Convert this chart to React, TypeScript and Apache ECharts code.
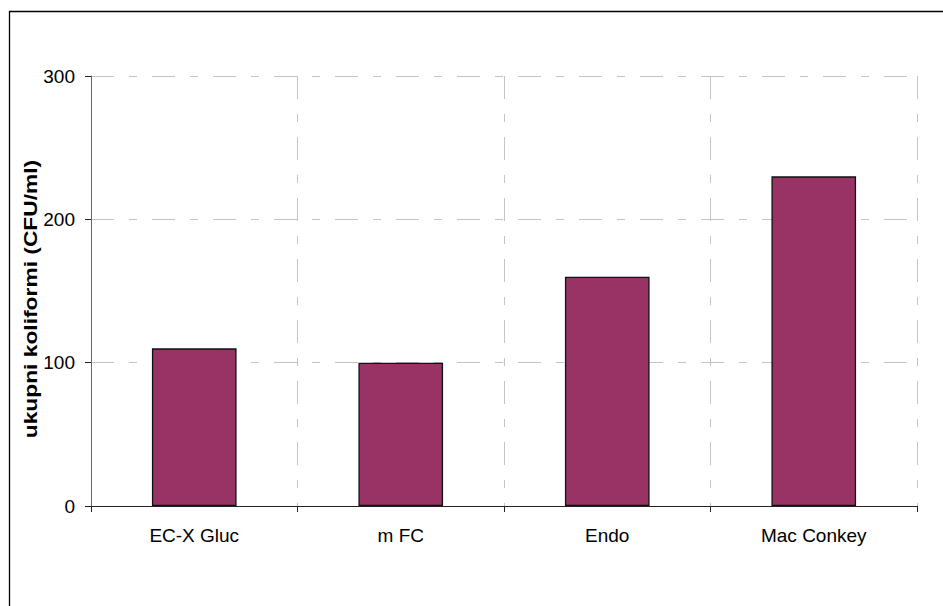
import React, { useEffect, useRef } from "react";
import * as echarts from "echarts";

const categories = ["EC-X Gluc", "m FC", "Endo", "Mac Conkey"];
const values = [110, 100, 160, 230];
const yTicks = { min: 0, max: 300, interval: 100 };
const yTitle = "ukupni koliformi (CFU/ml)";

const FONT = "Arial, 'Liberation Sans', sans-serif";

export default function App() {
  const ref = useRef<HTMLDivElement>(null);
  useEffect(() => {
    document.body.style.margin = "0";
    const chart = echarts.init(ref.current!, undefined, { renderer: "svg" });
    const dash = [23, 15, 8, 15];
    chart.setOption({
      animation: false,
      backgroundColor: "#ffffff",
      grid: { left: 91, top: 76, right: 26, bottom: 100, containLabel: false },
      graphic: [
        {
          type: "rect",
          shape: { x: 9.5, y: 11.5, width: 1200, height: 1200 },
          style: { fill: "none", stroke: "#000", lineWidth: 1.3 },
          silent: true,
        },
        {
          type: "text",
          x: 30,
          y: 299,
          rotation: Math.PI / 2,
          scaleX: 1.2,
          silent: true,
          style: {
            text: yTitle,
            fill: "#000",
            fontSize: 19,
            fontWeight: "bold",
            fontFamily: FONT,
            textAlign: "center",
            textVerticalAlign: "middle",
          },
        },
      ],
      xAxis: {
        type: "category",
        data: categories,
        boundaryGap: true,
        axisLine: { show: true, lineStyle: { color: "#222", width: 1 } },
        axisTick: { show: true, length: 6, lineStyle: { color: "#222" } },
        axisLabel: { color: "#000", fontSize: 19, fontFamily: FONT, margin: 20 },
        splitLine: { show: true, lineStyle: { color: "#c4c4c4", type: dash, width: 1 } },
      },
      yAxis: {
        type: "value",
        min: yTicks.min,
        max: yTicks.max,
        interval: yTicks.interval,
        axisLine: { show: true, lineStyle: { color: "#666", width: 1 } },
        axisTick: { show: true, length: 6, lineStyle: { color: "#222" } },
        axisLabel: { color: "#000", fontSize: 19, fontFamily: FONT, margin: 16 },
        splitLine: { show: true, lineStyle: { color: "#c4c4c4", type: dash, width: 1 } },
      },
      series: [
        {
          type: "bar",
          data: values,
          barWidth: "41%",
          itemStyle: { color: "#993366", borderColor: "#111", borderWidth: 1.3 },
        },
      ],
    });
    return () => chart.dispose();
  }, []);
  return <div ref={ref} style={{ width: 943, height: 606 }} />;
}
